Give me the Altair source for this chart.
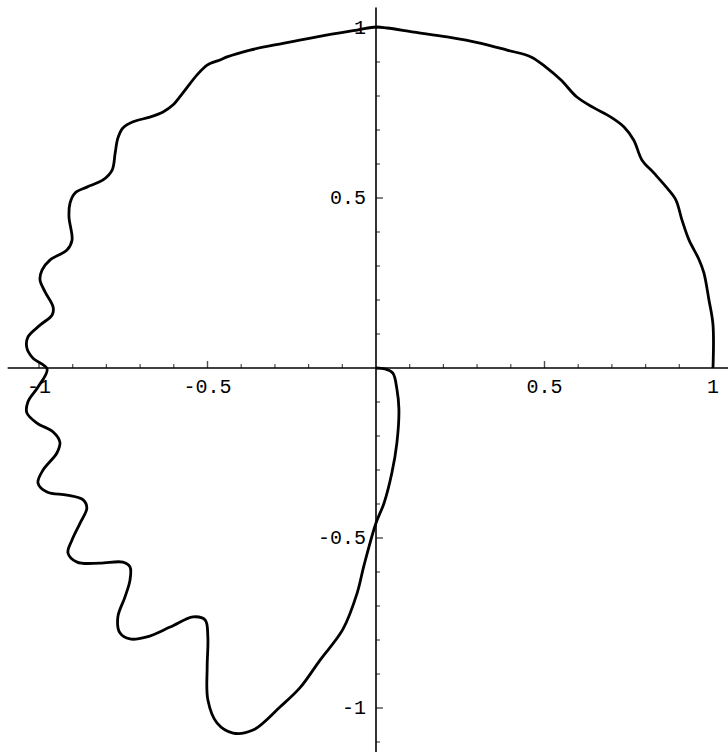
import altair as alt
import pandas as pd

# Parametric curve traced counter-clockwise from (1, 0), ending at the origin
curve_x = [1.0, 1.0, 0.988, 0.973, 0.958, 0.929, 0.908, 0.89, 0.864, 0.825, 0.789,
           0.765, 0.736, 0.697, 0.647, 0.596, 0.549, 0.504, 0.46, 0.389, 0.312, 0.211,
           0.113, 0.033, 0.0, -0.056, -0.175, -0.276, -0.374, -0.442,
           -0.463, -0.501, -0.531, -0.573, -0.602, -0.632, -0.671, -0.721, -0.751,
           -0.766, -0.774, -0.783, -0.81, -0.858, -0.893, -0.908, -0.911,
           -0.902, -0.917, -0.967, -0.991, -0.997, -0.982, -0.958, -0.961, -0.997,
           -1.033, -1.036, -1.018, -0.976, -1.003, -1.033, -1.036, -1.006, -0.958,
           -0.938, -0.947, -0.988, -1.003, -0.976, -0.917, -0.869, -0.858, -0.878,
           -0.902, -0.914, -0.887, -0.819, -0.751, -0.73, -0.73, -0.745, -0.766,
           -0.76, -0.73, -0.68, -0.611, -0.543, -0.507, -0.499, -0.501, -0.499,
           -0.472, -0.424, -0.365, -0.285, -0.226, -0.166, -0.098, -0.056, -0.036,
           0.0, 0.024, 0.047, 0.062, 0.068, 0.062, 0.05, 0.027, 0.0]
curve_y = [0.0, 0.127, 0.2, 0.28, 0.32, 0.376, 0.435, 0.494, 0.529, 0.573, 0.612,
           0.67, 0.709, 0.738, 0.765, 0.797, 0.847, 0.885, 0.915, 0.935, 0.955, 0.974,
           0.988, 1.0, 1.003, 0.994, 0.974, 0.955, 0.935, 0.915,
           0.906, 0.891, 0.862, 0.809, 0.774, 0.753, 0.738, 0.724, 0.706,
           0.676, 0.632, 0.582, 0.553, 0.532, 0.515, 0.485, 0.444,
           0.376, 0.347, 0.318, 0.288, 0.259, 0.224, 0.179, 0.156, 0.126,
           0.091, 0.059, 0.029, -0.003, -0.056, -0.1, -0.132, -0.162, -0.188,
           -0.218, -0.25, -0.3, -0.338, -0.365, -0.374, -0.388, -0.412, -0.456,
           -0.506, -0.544, -0.571, -0.574, -0.571, -0.585, -0.624, -0.674, -0.732,
           -0.779, -0.797, -0.791, -0.762, -0.732, -0.741, -0.791, -0.879, -0.976,
           -1.044, -1.074, -1.065, -0.997, -0.941, -0.859, -0.768, -0.662, -0.582,
           -0.456, -0.397, -0.309, -0.22, -0.121, -0.062, -0.015, -0.003, 0.0]

# Axis ticks and labels
x_minor = [-0.9, -0.8, -0.7, -0.6, -0.4, -0.3, -0.2, -0.1,
           0.1, 0.2, 0.3, 0.4, 0.6, 0.7, 0.8, 0.9]
x_major = [-1.0, -0.5, 0.5, 1.0]
x_labels = ["-1", "-0.5", "0.5", "1"]
y_minor = [-1.1, -0.9, -0.8, -0.7, -0.6, -0.4, -0.3, -0.2, -0.1,
           0.1, 0.2, 0.3, 0.4, 0.6, 0.7, 0.8, 0.9]
y_major = [-1.0, -0.5, 0.5, 1.0]
y_labels = ["-1", "-0.5", "0.5", "1"]

# Extent of the drawn axis lines
x_axis_span = [-1.093, 1.045]
y_axis_span = [-1.13, 1.06]

FONT = "Liberation Mono"

xs = alt.Scale(domain=[-376 / 337, 352 / 337], nice=False, zero=False)
ys = alt.Scale(domain=[-384 / 340, 368 / 340], nice=False, zero=False)


def X(field):
    return alt.X(field, scale=xs, axis=None)


def Y(field):
    return alt.Y(field, scale=ys, axis=None)


curve = pd.DataFrame({"t": range(len(curve_x)), "x": curve_x, "y": curve_y})

line = alt.Chart(curve).mark_line(
    color="black", strokeWidth=2.8, interpolate="catmull-rom", strokeJoin="round"
).encode(x=X("x:Q"), y=Y("y:Q"), order="t:Q")

h_axis = alt.Chart(pd.DataFrame({"x": [x_axis_span[0]], "x2": [x_axis_span[1]], "y": [0.0]})).mark_rule(
    color="black", strokeWidth=1.6
).encode(x=X("x:Q"), x2="x2:Q", y=Y("y:Q"))

v_axis = alt.Chart(pd.DataFrame({"x": [0.0], "y": [y_axis_span[0]], "y2": [y_axis_span[1]]})).mark_rule(
    color="black", strokeWidth=1.6
).encode(x=X("x:Q"), y=Y("y:Q"), y2="y2:Q")

x_minor_ticks = alt.Chart(pd.DataFrame({"x": x_minor, "y": 0.0})).mark_tick(
    orient="vertical", size=4, thickness=1.2, color="black", yOffset=-2
).encode(x=X("x:Q"), y=Y("y:Q"))

x_major_ticks = alt.Chart(pd.DataFrame({"x": x_major, "y": 0.0})).mark_tick(
    orient="vertical", size=7, thickness=1.4, color="black", yOffset=-3.5
).encode(x=X("x:Q"), y=Y("y:Q"))

y_minor_ticks = alt.Chart(pd.DataFrame({"x": 0.0, "y": y_minor})).mark_tick(
    orient="horizontal", size=4, thickness=1.2, color="black", xOffset=2
).encode(x=X("x:Q"), y=Y("y:Q"))

y_major_ticks = alt.Chart(pd.DataFrame({"x": 0.0, "y": y_major})).mark_tick(
    orient="horizontal", size=7, thickness=1.4, color="black", xOffset=3.5
).encode(x=X("x:Q"), y=Y("y:Q"))

x_text = alt.Chart(pd.DataFrame({"x": x_major, "y": 0.0, "label": x_labels})).mark_text(
    font=FONT, fontSize=20, color="black", align="center", baseline="middle", dy=19
).encode(x=X("x:Q"), y=Y("y:Q"), text="label:N")

y_text = alt.Chart(pd.DataFrame({"x": 0.0, "y": y_major, "label": y_labels})).mark_text(
    font=FONT, fontSize=20, color="black", align="right", baseline="middle", dx=-10
).encode(x=X("x:Q"), y=Y("y:Q"), text="label:N")

chart = alt.layer(
    h_axis, v_axis, x_minor_ticks, x_major_ticks, y_minor_ticks, y_major_ticks,
    x_text, y_text, line
).properties(
    width=728, height=752, autosize=alt.AutoSizeParams(type="none"), padding=0
).configure_view(stroke=None)

chart.save("out.html", embed_options={"renderer": "svg", "actions": False})
